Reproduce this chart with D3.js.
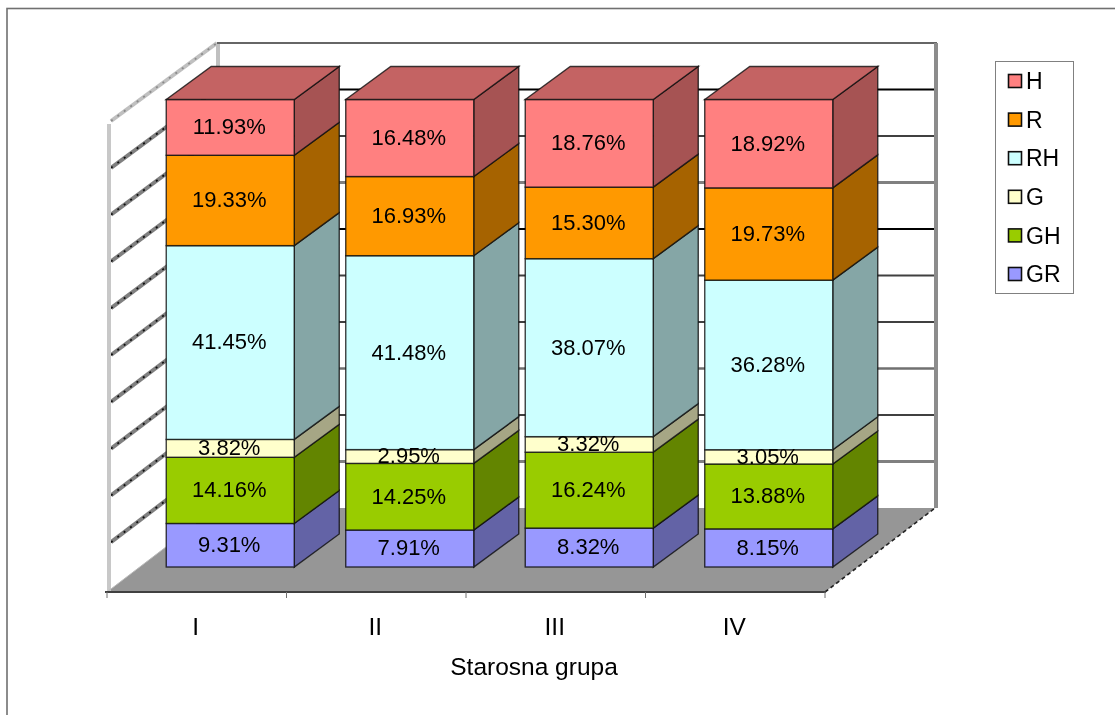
<!DOCTYPE html>
<html><head><meta charset="utf-8">
<script src="https://cdnjs.cloudflare.com/ajax/libs/d3/7.8.5/d3.min.js"></script>
<style>html,body{margin:0;padding:0;background:#fff}svg{display:block}text{font-family:"Liberation Sans",Arial,sans-serif;fill:#000}</style>
</head><body><svg id="c" width="1115" height="715"></svg>
<script>
const categories = ["I","II","III","IV"];
const seriesNames = ["GR","GH","G","RH","R","H"];
const GR = [9.31,7.91,8.32,8.15];
const GH = [14.16,14.25,16.24,13.88];
const G  = [3.82,2.95,3.32,3.05];
const RH = [41.45,41.48,38.07,36.28];
const R  = [19.33,16.93,15.30,19.73];
const H  = [11.93,16.48,18.76,18.92];
const seriesValues = [GR,GH,G,RH,R,H];
const frontColors = ["#9999FF","#99CC00","#FFFFCC","#CCFFFF","#FF9900","#FF8080"];
const gridTicks = d3.range(0,101,10);
const gridColors = ["#808080","#808080","#404040","#707070","#404040","#404040","#000000","#808080","#404040","#000000","#707070"];
const gridWidths = [2,3,2,2.4,2,2,2,3,2,2.2,2];

const svg = d3.select("#c");
const defs = svg.append("defs");
defs.append("filter").attr("id","soft").append("feGaussianBlur").attr("stdDeviation",0.4);
const root = svg.append("g").attr("filter","url(#soft)");
const FS = 22, FSA = 24.5, FSL = 23;
const x = d3.scaleBand().domain(categories).range([107,825]);
const wallFront = d3.scaleLinear().domain([0,100]).range([592,124]);
const wallBack = d3.scaleLinear().domain([0,100]).range([508,43]);
const y = d3.scaleLinear().domain([0,100]).range([567,99.5]);
const depthX = 110;
const barShiftX = 33.5;
const barDepth = [45,-33];
const barW = 128;
const pts = a => a.map(p=>p.join(",")).join(" ");
const shade = (c,k) => { const r=d3.rgb(c); return d3.rgb(r.r*k,r.g*k,r.b*k).formatHex(); };

root.append("rect").attr("x",7).attr("y",8.5).attr("width",1120).attr("height",720).attr("fill","#fff").attr("stroke","#707070").attr("stroke-width",1.6);

const xL=x.range()[0], xR=x.range()[1], y0=wallFront(0), yB=wallBack(0);
root.append("polygon").attr("points",pts([[xL,y0],[xR,y0],[xR+depthX,yB],[xL+depthX,yB]])).attr("fill","#969696");
gridTicks.forEach((t,i)=>{
  const yy=wallBack(t), w=wallFront(t);
  if(i>0 && i<10) {
    root.append("line").attr("x1",xL+depthX).attr("x2",xR+depthX).attr("y1",yy).attr("y2",yy).attr("stroke",gridColors[i]).attr("stroke-width",gridWidths[i]);
  }
  if(i>0){
    root.append("line").attr("x1",xL+4).attr("y1",w-3).attr("x2",xL+depthX).attr("y2",yy).attr("stroke",i==10?"#c0c0c0":"#808080").attr("stroke-width",4);
    root.append("line").attr("x1",xL+4).attr("y1",w-3).attr("x2",xL+depthX).attr("y2",yy).attr("stroke",i==10?"#8a8a8a":"#111").attr("stroke-width",1.8).attr("stroke-dasharray","2 6");
  }
});
root.append("line").attr("x1",xL+2).attr("x2",xL+2).attr("y1",y0).attr("y2",wallFront(100)).attr("stroke","#c8c8c8").attr("stroke-width",4);
root.append("line").attr("x1",xL+depthX+1).attr("x2",xL+depthX+1).attr("y1",wallBack(100)).attr("y2",yB).attr("stroke","#c0c0c0").attr("stroke-width",4);
root.append("line").attr("x1",xL+depthX).attr("x2",xR+depthX+2).attr("y1",wallBack(100)).attr("y2",wallBack(100)).attr("stroke","#666").attr("stroke-width",2);
root.append("line").attr("x1",xR+depthX+1).attr("x2",xR+depthX+1).attr("y1",wallBack(100)).attr("y2",yB).attr("stroke","#8c8c8c").attr("stroke-width",4);
root.append("line").attr("x1",xR).attr("y1",y0).attr("x2",xR+depthX).attr("y2",yB).attr("stroke","#222").attr("stroke-width",1.6).attr("stroke-dasharray","4 3");
root.append("line").attr("x1",xL).attr("y1",y0).attr("x2",xL+depthX).attr("y2",yB).attr("stroke","#bbb").attr("stroke-width",1);
const edges = x.domain().map(d=>x(d)).concat([xR]);
root.append("line").attr("x1",xL-2).attr("x2",xR+1).attr("y1",y0).attr("y2",y0).attr("stroke","#404040").attr("stroke-width",2);
root.selectAll("line.tk").data(edges).enter().append("line").attr("class","tk").attr("x1",d=>d).attr("x2",d=>d).attr("y1",y0).attr("y2",y0+6).attr("stroke","#707070");
const axis = d3.axisBottom(x).tickSize(0).tickPadding(0);
const ga = root.append("g").attr("transform",`translate(0,${y0+26})`).call(axis);
ga.select(".domain").remove();
ga.selectAll("text").attr("font-size",FSA).style("font-family",'"Liberation Sans",Arial,sans-serif').attr("fill","#000").attr("dy","0.71em").attr("y",0).attr("dx",-1);
root.append("text").attr("x",534).attr("y",675).attr("text-anchor","middle").attr("font-size",FSA).text("Starosna grupa");

const stack = categories.map((c,i)=>{ let acc=0; return seriesValues.map((s,j)=>{ const r={i,j,v:s[i],a:acc,b:acc+s[i]}; acc+=s[i]; return r; }); });
const stroke = "rgba(15,15,15,.8)";
stack.forEach((segs,i)=>{
  const gb = root.append("g");
  const x0 = x(categories[i])+x.bandwidth()/2+barShiftX-barW/2;
  const x1 = x0+barW;
  segs.forEach(d=>{
    const ya=y(d.a), yb=y(d.b), c=frontColors[d.j];
    gb.append("polygon").attr("points",pts([[x1,yb],[x1+barDepth[0],yb+barDepth[1]],[x1+barDepth[0],ya+barDepth[1]],[x1,ya]])).attr("fill",shade(c,.65)).attr("stroke",stroke).attr("stroke-width",1.4);
    gb.append("rect").attr("x",x0).attr("y",yb).attr("width",barW).attr("height",ya-yb).attr("fill",c).attr("stroke",stroke).attr("stroke-width",1.4);
  });
  const top=segs[segs.length-1], yt=y(top.b);
  gb.append("polygon").attr("points",pts([[x0,yt],[x1,yt],[x1+barDepth[0],yt+barDepth[1]],[x0+barDepth[0],yt+barDepth[1]]])).attr("fill",shade(frontColors[5],.77)).attr("stroke",stroke).attr("stroke-width",1.4);
  segs.forEach(d=>{
    gb.append("text").attr("x",(x0+x1)/2-1).attr("y",(y(d.a)+y(d.b))/2-1).attr("dy","0.36em").attr("text-anchor","middle").attr("font-size",FS).text(d.v.toFixed(2)+"%");
  });
});

const legend = root.append("g");
legend.append("rect").attr("x",995.5).attr("y",61.5).attr("width",78).attr("height",232).attr("fill","#fff").attr("stroke","#808080");
const legendNames = seriesNames.slice().reverse();
const legendY = d3.scalePoint().domain(legendNames).range([81,274]);
legendNames.forEach(n=>{
  const c=frontColors[seriesNames.indexOf(n)];
  legend.append("rect").attr("x",1008.5).attr("y",legendY(n)-6.5).attr("width",13).attr("height",13).attr("fill",c).attr("stroke","#111").attr("stroke-width",1.6);
  legend.append("text").attr("x",1026).attr("y",legendY(n)).attr("dy","0.36em").attr("font-size",FSL).text(n);
});
</script></body></html>
